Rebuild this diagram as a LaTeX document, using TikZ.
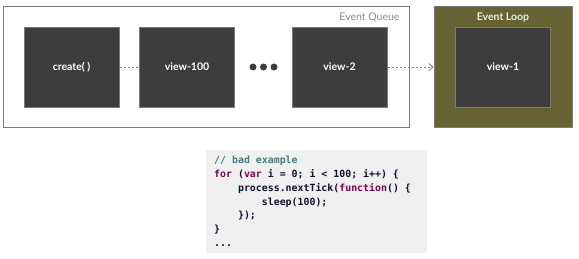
\documentclass[tikz,border=0pt]{standalone}
\usepackage{fontspec}
\setmainfont{Lato}
\newfontfamily\codefont{DejaVu Sans Mono}
\usetikzlibrary{arrows.meta}
\definecolor{boxdark}{HTML}{3D3D3D}
\definecolor{boxedge}{HTML}{7A7A7A}
\definecolor{olive}{HTML}{646331}
\definecolor{codebg}{HTML}{F0F0F0}
\definecolor{cmt}{HTML}{3F7F7F}
\definecolor{kw}{HTML}{7F0055}
\definecolor{codetxt}{HTML}{101030}
\tikzset{
  evbox/.style={draw=boxedge, line width=1pt, fill=boxdark, minimum width=95pt, minimum height=80pt, inner sep=0pt, text=white, font=\fontsize{10.5}{12}\selectfont\bfseries},
  frame/.style={draw=boxedge, line width=1pt, inner sep=0pt},
  link/.style={draw=gray, dash pattern=on 2.5pt off 1.5pt, line width=0.8pt},
}
\begin{document}
\begin{tikzpicture}[x=1pt,y=-1pt]
\useasboundingbox (0,0) rectangle (579,258);
% frames
\node[frame, fill=white, minimum width=406pt, minimum height=121pt, anchor=north west] (queue) at (3,6) {};
\node[frame, fill=olive, minimum width=138pt, minimum height=121pt, anchor=north west] (loop) at (434,6) {};
\node[anchor=east, text=gray!90, font=\fontsize{10.5}{12}\selectfont] (qlabel) at (403,17) {Event Queue};
\node[text=white!93!black, font=\fontsize{10.5}{12}\selectfont\bfseries] (llabel) at (503,17.5) {Event Loop};
% event boxes
\node[evbox] (create) at (71.5,67) {create( )};
\node[evbox] (v100) at (187,67) {view-100};
\node[evbox] (v2) at (339.5,67) {view-2};
\node[evbox] (v1) at (503,67) {view-1};
% dots
\foreach \x/\n in {253/d1,263.5/d2,274/d3}{
  \node[circle, fill=boxdark, minimum size=7pt, inner sep=0pt] (\n) at (\x,67) {};
}
% connectors
\draw[link] (create.east) -- (v100.west);
\draw[link, -{Straight Barb[length=4pt,width=7pt,line width=0.8pt]}, shorten >=0.5pt] (v2.east) -- (v2.east -| loop.west);
% code
\node[fill=codebg, minimum width=221pt, minimum height=103pt, anchor=north west, inner sep=0pt] (code) at (206,150) {};
\node[anchor=north west, inner sep=0pt, align=left, text=codetxt, font=\codefont\bfseries\fontsize{9.9}{13.8}\selectfont] (codetext) at (214,156) {%
\textcolor{cmt}{// bad example}\\
\textcolor{kw}{for} (\textcolor{kw}{var} i = 0; i < 100; i++) \{\\
\hspace*{4\fontcharwd\font`0}process.nextTick(\textcolor{kw}{function}() \{\\
\hspace*{8\fontcharwd\font`0}sleep(100);\\
\hspace*{4\fontcharwd\font`0}\});\\
\}\\
...};
\end{tikzpicture}
\end{document}
